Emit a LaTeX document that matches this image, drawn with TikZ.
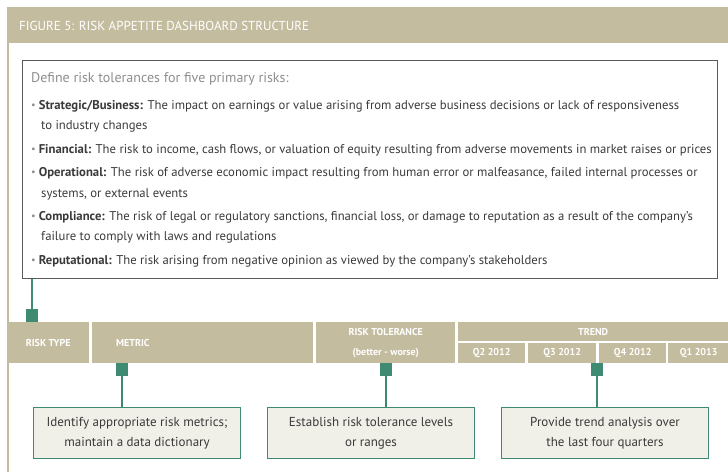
\documentclass[tikz,border=0pt]{standalone}
\usepackage{fontspec}
\setmainfont{PT Sans}
\definecolor{tanc}{HTML}{C4BC9F}
\definecolor{tealc}{HTML}{3E8A72}
\definecolor{boxfill}{HTML}{F0EFE8}
\definecolor{txtc}{HTML}{3A3A3A}
\definecolor{gryc}{HTML}{8E8E8E}
\definecolor{framec}{HTML}{5A5A5A}
\newcommand{\bul}{\textcolor{gryc}{\raisebox{0.5pt}{\scalebox{0.8}{•}}}\hspace{3pt}}
\tikzset{
  line/.style={anchor=base west, inner sep=0pt, text=txtc, font=\fontsize{12.7}{14}\selectfont},
  hdr/.style={fill=tanc, draw=none, inner sep=0pt, anchor=north west},
  hdrtext/.style={text=white, font=\bfseries\fontsize{10}{12}\selectfont, inner sep=0pt},
  sq/.style={fill=tealc, draw=none, minimum width=12pt, minimum height=13pt, inner sep=0pt},
  conn/.style={draw=tealc, line width=2.6pt},
  infobox/.style={draw=tealc, line width=1pt, fill=boxfill, minimum width=207pt, minimum height=51pt, align=center, text=txtc, font=\fontsize{13}{20}\selectfont, inner sep=0pt},
}
\begin{document}
\begin{tikzpicture}[x=1pt,y=-1pt]
\useasboundingbox (0,0) rectangle (728,472);
% title band and left rule
\fill[tanc] (7,7) rectangle (728,43);
\fill[tanc] (7,43) rectangle (9,472);
\node[anchor=west, inner sep=0pt, text=white, font=\fontsize{13}{15}\selectfont] (title) at (19,26) {FIGURE 5: RISK APPETITE DASHBOARD STRUCTURE};
% definition box
\node[draw=framec, line width=0.8pt, anchor=north west, minimum width=695pt, minimum height=218pt, inner sep=0pt] (defbox) at (22,60) {};
\node[line, text=gryc, font=\fontsize{14}{16}\selectfont] (intro) at (31,82) {Define risk tolerances for five primary risks:};
\node[line] (s1) at (31,109) {\bul\textbf{Strategic/Business:} The impact on earnings or value arising from adverse business decisions or lack of responsiveness};
\node[line] (s2) at (41,129) {to industry changes};
\node[line] (f1) at (31,153) {\bul\textbf{Financial:} The risk to income, cash flows, or valuation of equity resulting from adverse movements in market raises or prices};
\node[line] (o1) at (31,176) {\bul\textbf{Operational:} The risk of adverse economic impact resulting from human error or malfeasance, failed internal processes or};
\node[line] (o2) at (41,197) {systems, or external events};
\node[line] (c1) at (31,220) {\bul\textbf{Compliance:} The risk of legal or regulatory sanctions, financial loss, or damage to reputation as a result of the company’s};
\node[line] (c2) at (41,240) {failure to comply with laws and regulations};
\node[line] (r1) at (31,264) {\bul\textbf{Reputational:} The risk arising from negative opinion as viewed by the company’s stakeholders};
% table header
\node[hdr, minimum width=82pt, minimum height=41pt] (rt) at (7,322) {};
\node[hdr, minimum width=221pt, minimum height=41pt] (met) at (92,322) {};
\node[hdr, minimum width=139pt, minimum height=41pt] (tol) at (316,322) {};
\node[hdr, minimum width=270pt, minimum height=19pt] (trend) at (458,322) {};
\node[hdr, minimum width=67pt, minimum height=20pt] (q2) at (458,343) {};
\node[hdr, minimum width=68pt, minimum height=20pt] (q3) at (528,343) {};
\node[hdr, minimum width=67pt, minimum height=20pt] (q4) at (599,343) {};
\node[hdr, minimum width=61pt, minimum height=20pt] (q1) at (668,343) {};
\node[hdrtext] at (rt.center) {RISK TYPE};
\node[hdrtext, anchor=west] at (met.west -| 116,0) {METRIC};
\node[hdrtext] at ([yshift=-10pt]tol.north) {RISK TOLERANCE};
\node[hdrtext] at ([yshift=10pt]tol.south) {(better - worse)};
\node[hdrtext] at (trend.center) {TREND};
\node[hdrtext] at (q2.center) {Q2 2012};
\node[hdrtext] at (q3.center) {Q3 2012};
\node[hdrtext] at (q4.center) {Q4 2012};
\node[hdrtext] at (q1.center) {Q1 2013};
% connector from definition box to risk type
\node[sq, anchor=south] (sq0) at (32,322) {};
\draw[conn] (defbox.south -| sq0.north) -- (sq0.north);
% lower boxes
\node[infobox, anchor=north west] (b1) at (33,407) {Identify appropriate risk metrics;\\maintain a data dictionary};
\node[infobox, anchor=north west] (b2) at (267,407) {Establish risk tolerance levels\\or ranges};
\node[infobox, anchor=north west] (b3) at (501,407) {Provide trend analysis over\\the last four quarters};
\node[sq, anchor=north] (sq1) at (122,363) {};
\node[sq, anchor=north] (sq2) at (386,363) {};
\node[sq, anchor=north] (sq3) at (597,363) {};
\draw[conn] (sq1.south) -- (sq1.south |- b1.north);
\draw[conn] (sq2.south) -- (sq2.south |- b2.north);
\draw[conn] (sq3.south) -- (sq3.south |- b3.north);
\end{tikzpicture}
\end{document}
